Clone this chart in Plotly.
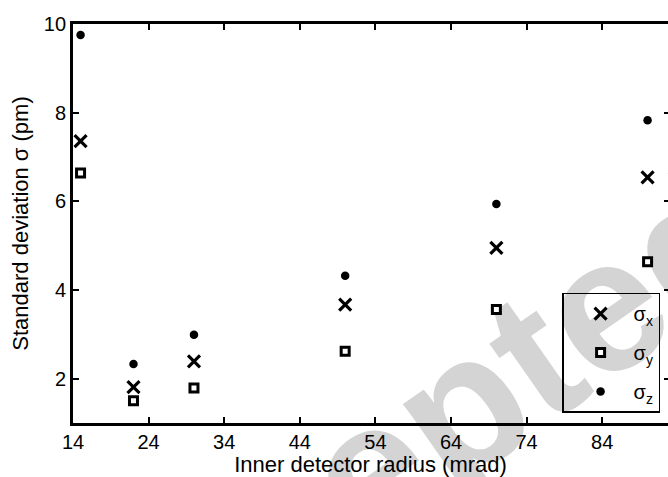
import plotly.graph_objects as go

# Inner detector radius (mrad) and the standard deviations (pm) along x, y, z
radius = [15, 22, 30, 50, 70, 90]
sigma_x = [7.36, 1.81, 2.39, 3.67, 4.95, 6.54]
sigma_y = [6.64, 1.50, 1.79, 2.62, 3.56, 4.64]
sigma_z = [9.75, 2.33, 2.99, 4.32, 5.94, 7.83]

x_ticks = [14, 24, 34, 44, 54, 64, 74, 84]
y_ticks = [2, 4, 6, 8, 10]

FONT = "Liberation Sans, Arial, Helvetica, sans-serif"

fig = go.Figure()

fig.add_trace(go.Scatter(
    x=radius, y=sigma_x, mode="markers", name="σ<sub>x</sub>",
    legendgroup="gx",
    marker=dict(symbol="x-thin", size=12, color="black",
                line=dict(color="black", width=3.2)),
))
fig.add_trace(go.Scatter(
    x=radius, y=sigma_y, mode="markers", name="σ<sub>y</sub>",
    legendgroup="gy",
    marker=dict(symbol="square", size=8, color="white",
                line=dict(color="black", width=3)),
))
fig.add_trace(go.Scatter(
    x=radius, y=sigma_z, mode="markers", name="σ<sub>z</sub>",
    legendgroup="gz",
    marker=dict(symbol="circle", size=8.5, color="black",
                line=dict(width=0)),
))
# empty trace that carries the right-hand tick axis
fig.add_trace(go.Scatter(x=[], y=[], yaxis="y2", showlegend=False,
                         hoverinfo="skip"))

axis_common = dict(
    showgrid=False, zeroline=False,
    ticks="inside", tickcolor="black", tickwidth=2,
    tickfont=dict(family=FONT, size=20, color="black"),
)

fig.update_layout(
    width=668, height=477,
    margin=dict(l=73, r=0, t=24, b=54),
    paper_bgcolor="white",
    plot_bgcolor="rgba(0,0,0,0)",
    font=dict(family=FONT, color="black"),
    xaxis=dict(
        range=[14, 92.7], tickvals=x_ticks, ticklen=6,
        showline=True, linecolor="black", linewidth=2.8, mirror="ticks",
        title=dict(text="Inner detector radius (mrad)",
                   font=dict(family=FONT, size=22, color="black"),
                   standoff=9),
        ticklabelstandoff=-1,
        **axis_common,
    ),
    yaxis=dict(
        range=[1, 10], tickvals=y_ticks, ticklen=6,
        showline=True, linecolor="black", linewidth=2.8, mirror=False,
        title=dict(text="Standard deviation σ (pm)",
                   font=dict(family=FONT, size=22, color="black"),
                   standoff=10),
        **axis_common,
    ),
    yaxis2=dict(
        range=[1, 10], tickvals=y_ticks, ticklen=4, side="right",
        overlaying="y", anchor="x", showline=False, showticklabels=False,
        **axis_common,
    ),
    legend=dict(
        x=0.822, y=0.327, xanchor="left", yanchor="top",
        bgcolor="rgba(0,0,0,0)", bordercolor="black", borderwidth=1.5,
        font=dict(family=FONT, size=20, color="black"),
        itemwidth=56, indentation=4, tracegroupgap=10,
        traceorder="grouped",
    ),
    shapes=[dict(
        type="rect", xref="paper", yref="paper",
        x0=0.406, x1=0.626, y0=-0.143, y1=0.057,
        line=dict(width=0), fillcolor="rgba(0,0,0,0)", layer="below",
        label=dict(text="Accepted", textangle=-35,
                   textposition="middle center",
                   font=dict(family=FONT, size=190, color="#d4d4d4",
                             weight="bold")),
    )],
)

fig.write_html("out.html")
